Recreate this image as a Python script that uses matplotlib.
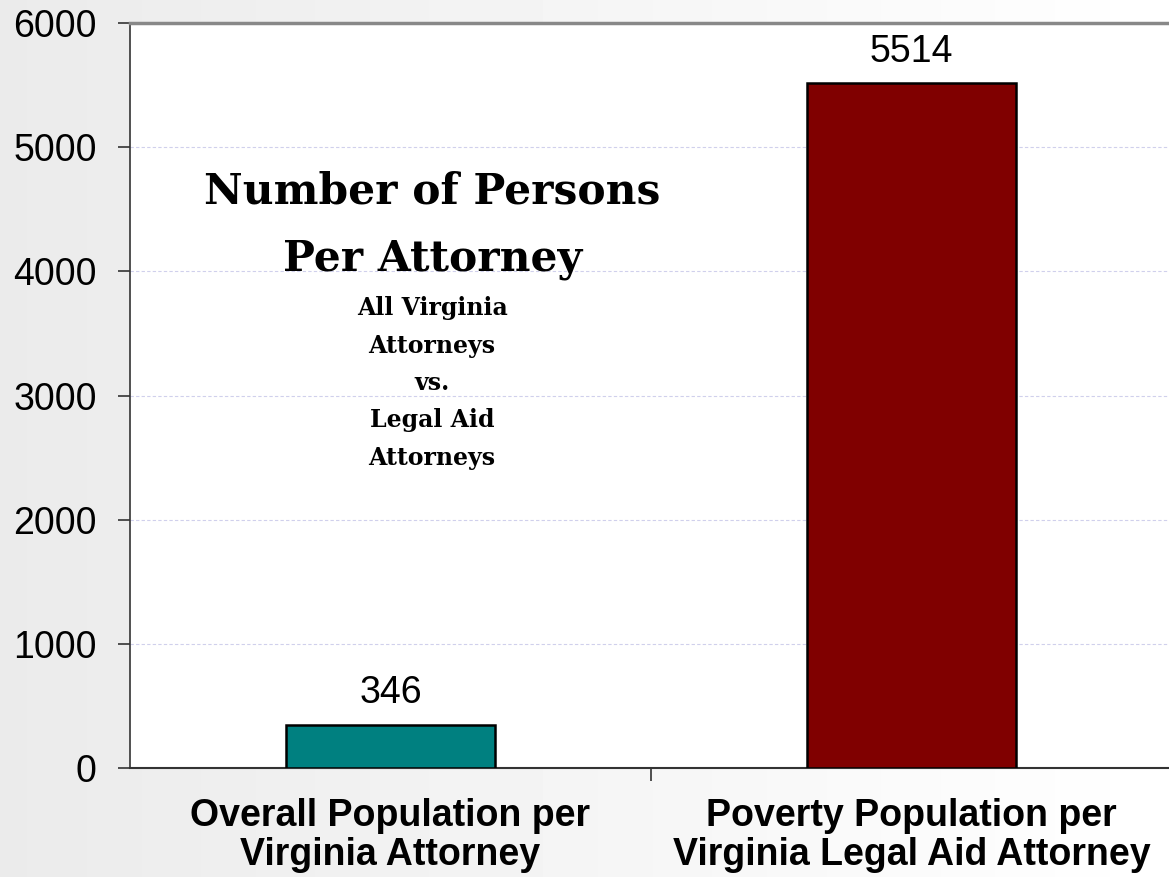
import matplotlib.pyplot as plt
import numpy as np

categories = ["Overall Population per\nVirginia Attorney",
              "Poverty Population per\nVirginia Legal Aid Attorney"]
values = [346, 5514]
colors = ["#008080", "#800000"]
yticks = [0, 1000, 2000, 3000, 4000, 5000, 6000]

fig = plt.figure(figsize=(11.69, 8.77), dpi=100)

# light gray gradient behind everything
bg = fig.add_axes([0, 0, 1, 1], zorder=-10)
grad = np.linspace(0.92, 1.0, 256).reshape(1, -1)
bg.imshow(grad, cmap="gray", vmin=0, vmax=1, aspect="auto", extent=[0, 1, 0, 1])
bg.axis("off")

ax = fig.add_axes([130 / 1169, (877 - 768) / 877, 1042 / 1169, 745 / 877])
ax.set_facecolor("white")
x = np.arange(len(values))
ax.bar(x, values, width=0.4, color=colors, edgecolor="black", linewidth=1.8, zorder=3)
for xi, v in zip(x, values):
    ax.text(xi, v + 110, str(v), ha="center", va="bottom", fontsize=27,
            family="Liberation Sans", zorder=4)

ax.set_xlim(-0.5, 1.5)
ax.set_ylim(0, 6000)
ax.set_yticks(yticks)
ax.set_yticklabels([str(t) for t in yticks], fontsize=27, family="Liberation Sans")
ax.set_xticks([0.5])
ax.set_xticklabels([""])
ax.tick_params(axis="both", direction="out", length=9, width=1.2, color="#333333")
ax.tick_params(axis="y", pad=15)
for xi, lab in zip(x, categories):
    ax.text(xi, -240, lab, ha="center", va="top", fontsize=27, fontweight="bold",
            family="Liberation Sans", linespacing=1.1)

ax.yaxis.grid(True, linestyle=(0, (3, 2)), color="#d0d0ec", linewidth=0.8, zorder=0)
ax.spines["right"].set_visible(False)
ax.spines["top"].set_color("#888888")
ax.spines["top"].set_linewidth(2.5)
ax.spines["left"].set_color("#333333")
ax.spines["left"].set_linewidth(1.2)
ax.spines["bottom"].set_color("#333333")
ax.spines["bottom"].set_linewidth(1.5)

ax.text(0.08, 4370, "Number of Persons\nPer Attorney", ha="center", va="center",
        fontsize=30.5, fontweight="bold", family="DejaVu Serif", linespacing=1.75)
ax.text(0.08, 3100, "All Virginia\nAttorneys\nvs.\nLegal Aid\nAttorneys", ha="center",
        va="center", fontsize=17, fontweight="bold", family="DejaVu Serif", linespacing=1.7)

fig.savefig("out.png", dpi=100)
